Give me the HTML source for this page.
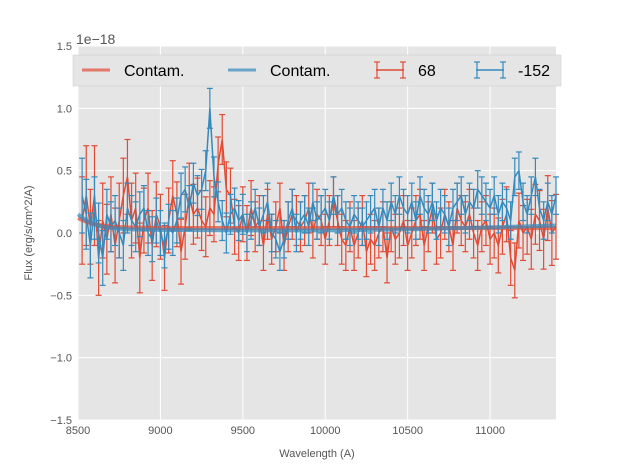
<!DOCTYPE html>
<html><head><meta charset="utf-8"><style>
body{margin:0;background:#fff;}
svg text{font-family:"Liberation Sans",sans-serif;}
</style></head><body>
<svg id="chart" width="617" height="467" xmlns="http://www.w3.org/2000/svg"></svg>
<script>
const xTicks=[8500,9000,9500,10000,10500,11000];
const yTicks=[1.5,1.0,0.5,0.0,-0.5,-1.0,-1.5];
const yTickLabels=["1.5","1.0","0.5","0.0","\u22120.5","\u22121.0","\u22121.5"];
const wave0=8525, waveStep=25;
const redFlux=[0.1,0.3,0.05,0.3,-0.2,0.1,-0.05,0.15,-0.1,0.1,0.3,0.45,0.1,0.2,-0.2,0.1,0.2,-0.1,0.15,0.05,
-0.2,0.1,0.3,0.15,-0.15,0.05,0.3,0.15,0.2,0.1,0.05,0.2,0.15,0.55,0.75,0.35,0.3,0.05,0.0,0.15,
0.0,0.2,0.05,0.1,-0.1,0.15,-0.05,0.05,0.2,-0.1,0.05,0.15,0.1,0.05,0.1,0.2,0.0,0.15,0.1,-0.05,
0.1,0.25,0.1,-0.05,-0.1,0.05,-0.1,0.0,0.1,-0.15,-0.05,-0.1,0.0,0.05,-0.2,0.05,-0.05,0.0,0.1,-0.1,
0.0,0.1,0.15,-0.1,0.05,0.2,-0.05,0.0,0.15,0.05,-0.1,0.2,0.1,0.05,0.15,0.0,-0.1,0.05,0.1,-0.05,
0.0,-0.1,0.05,0.15,-0.2,-0.3,0.1,0.0,0.05,-0.05,0.15,0.1,-0.05,0.2,0.0,0.05];
const redErr=[0.35,0.4,0.3,0.4,0.3,0.3,0.28,0.3,0.3,0.3,0.3,0.3,0.3,0.28,0.28,0.26,0.28,0.28,0.26,0.26,
0.26,0.26,0.28,0.26,0.26,0.26,0.26,0.24,0.24,0.24,0.24,0.22,0.22,0.22,0.2,0.22,0.22,0.22,0.22,0.22,
0.22,0.22,0.2,0.2,0.2,0.2,0.2,0.2,0.2,0.2,0.2,0.2,0.2,0.2,0.2,0.2,0.2,0.2,0.2,0.2,
0.2,0.2,0.2,0.2,0.2,0.2,0.2,0.2,0.2,0.2,0.2,0.2,0.2,0.2,0.2,0.2,0.2,0.2,0.2,0.2,
0.2,0.2,0.2,0.2,0.2,0.2,0.2,0.2,0.2,0.2,0.2,0.2,0.2,0.2,0.2,0.2,0.2,0.2,0.2,0.2,
0.2,0.22,0.22,0.22,0.22,0.22,0.22,0.22,0.22,0.24,0.24,0.24,0.24,0.26,0.26,0.26];
const blueFlux=[0.3,0.15,-0.1,0.2,0.0,-0.2,0.15,0.05,0.1,0.0,-0.1,0.2,0.1,0.05,0.15,0.2,0.0,-0.05,0.1,0.0,
-0.1,0.05,0.0,0.1,0.3,0.35,0.2,0.4,0.3,0.35,0.5,1.0,0.45,0.25,0.1,0.0,0.15,0.2,0.1,0.15,
0.0,0.1,0.2,0.05,0.15,0.25,0.0,-0.05,-0.15,-0.05,0.1,0.2,0.0,0.1,0.15,0.05,0.25,0.1,0.15,0.2,
0.1,0.3,0.15,0.2,0.1,0.05,0.15,0.1,0.05,0.1,0.15,0.2,0.05,0.2,0.1,0.25,0.15,0.3,0.2,0.15,
0.25,0.1,0.3,0.2,0.15,0.25,0.1,0.2,0.15,0.05,0.2,0.25,0.3,0.15,0.25,0.2,0.35,0.3,0.25,0.2,
0.3,0.15,0.25,0.2,0.1,0.45,0.5,0.25,0.15,0.3,0.45,0.2,0.1,0.25,0.15,0.3];
const blueErr=[0.3,0.28,0.26,0.25,0.24,0.22,0.2,0.2,0.2,0.2,0.2,0.2,0.2,0.2,0.18,0.18,0.18,0.18,0.18,0.18,
0.18,0.18,0.18,0.18,0.18,0.18,0.18,0.16,0.16,0.16,0.16,0.16,0.16,0.16,0.16,0.16,0.16,0.16,0.16,0.16,
0.15,0.15,0.15,0.15,0.15,0.15,0.15,0.15,0.15,0.15,0.15,0.15,0.15,0.15,0.15,0.15,0.15,0.15,0.15,0.15,
0.15,0.15,0.15,0.15,0.15,0.15,0.15,0.15,0.15,0.15,0.15,0.15,0.15,0.15,0.15,0.15,0.15,0.15,0.15,0.15,
0.15,0.15,0.15,0.15,0.15,0.15,0.15,0.15,0.15,0.15,0.15,0.15,0.15,0.15,0.15,0.15,0.15,0.15,0.15,0.15,
0.15,0.15,0.15,0.15,0.15,0.15,0.15,0.15,0.15,0.15,0.15,0.15,0.15,0.15,0.15,0.15];
const contamWave=[8500,8550,8600,8650,8700,8800,9000,9500,10000,10500,11000,11400];
const redContam=[0.12,0.09,0.07,0.06,0.05,0.045,0.04,0.04,0.04,0.04,0.04,0.04];
const blueContam=[0.15,0.1,0.07,0.05,0.04,0.03,0.025,0.02,0.02,0.03,0.045,0.06];

const svg=document.getElementById('chart');
const NS='http://www.w3.org/2000/svg';
const L=78,R=556,T=46,B=420,X0=8500,X1=11400,Y0=-1.5,Y1=1.5;
const sx=v=>L+(v-X0)/(X1-X0)*(R-L);
const sy=v=>B-(v-Y0)/(Y1-Y0)*(B-T);
function mk(tag,attrs,parent){const e=document.createElementNS(NS,tag);for(const k in attrs)e.setAttribute(k,attrs[k]);(parent||svg).appendChild(e);return e;}

const bg=mk('rect',{x:L,y:T,width:R-L,height:B-T,fill:'#e5e5e5'});


xTicks.forEach(t=>{
  const g=mk('line',{x1:sx(t),x2:sx(t),y1:T,y2:B,stroke:'#fff','stroke-width':1});
  
  
  const tx=mk('text',{x:sx(t),y:B+14,'text-anchor':'middle','font-size':11,fill:'#555'});
  tx.textContent=t;
  
  
});
yTicks.forEach((t,i)=>{
  const g=mk('line',{x1:L,x2:R,y1:sy(t),y2:sy(t),stroke:'#fff','stroke-width':1});
  
  
  const tx=mk('text',{x:L-6,y:sy(t)+4,'text-anchor':'end','font-size':11,fill:'#555'});
  tx.textContent=yTickLabels[i];
  
  
});

function contam(vals,color,name){
  const p=mk('polyline',{points:contamWave.map((w,i)=>sx(w)+','+sy(vals[i])).join(' '),fill:'none',stroke:color,'stroke-width':4,'stroke-opacity':0.7});
  
  
}
function series(flux,err,color,name){
  const g=mk('g',{});
  
  
  let pts=[];
  flux.forEach((v,i)=>{
    const x=sx(wave0+i*waveStep);
    const yt=sy(v+err[i]),yb=sy(v-err[i]);
    mk('line',{x1:x,x2:x,y1:yt,y2:yb,stroke:color,'stroke-width':1.2},g);
    mk('line',{x1:x-3,x2:x+3,y1:yt,y2:yt,stroke:color,'stroke-width':1.2},g);
    mk('line',{x1:x-3,x2:x+3,y1:yb,y2:yb,stroke:color,'stroke-width':1.2},g);
    pts.push(x+','+sy(v));
  });
  mk('polyline',{points:pts.join(' '),fill:'none',stroke:color,'stroke-width':1.5},g);
}
series(redFlux,redErr,'#e24a33','series-68');
series(blueFlux,blueErr,'#348abd','series-minus-152');
contam(redContam,'#e24a33','contam-line-red');
contam(blueContam,'#348abd','contam-line-blue');

// legend
const lg=mk('g',{});


mk('rect',{x:73,y:55,width:488,height:31,fill:'#e5e5e5',stroke:'#ccc','stroke-width':0.5},lg);
const items=[[82,'#e24a33','Contam.',false],[228,'#348abd','Contam.',false],[376,'#e24a33','68',true],[476,'#348abd','-152',true]];
items.forEach(([x,c,t,eb])=>{
  if(eb){
    mk('line',{x1:x,x2:x+28,y1:70,y2:70,stroke:c,'stroke-width':1.5},lg);
    [x+1,x+27].forEach(xx=>{
      mk('line',{x1:xx,x2:xx,y1:62,y2:78,stroke:c,'stroke-width':1.2},lg);
      mk('line',{x1:xx-3,x2:xx+3,y1:62,y2:62,stroke:c,'stroke-width':1.2},lg);
      mk('line',{x1:xx-3,x2:xx+3,y1:78,y2:78,stroke:c,'stroke-width':1.2},lg);
    });
  } else {
    mk('line',{x1:x,x2:x+28,y1:70,y2:70,stroke:c,'stroke-width':3,'stroke-opacity':0.7},lg);
  }
  const tx=mk('text',{x:x+42,y:76,'font-size':16,fill:'#000'},lg);
  tx.textContent=t;
});

const off=mk('text',{x:76,y:44,'font-size':14,fill:'#555'});
off.textContent='1e\u221218';


const xl=mk('text',{x:317,y:457,'text-anchor':'middle','font-size':11,fill:'#555'});
xl.textContent='Wavelength (A)';


const yl=mk('text',{x:32,y:233,'text-anchor':'middle','font-size':11,fill:'#555',transform:'rotate(-90 32 233)'});
yl.textContent='Flux (erg/s/cm^2/A)';


</script>
</body></html>
